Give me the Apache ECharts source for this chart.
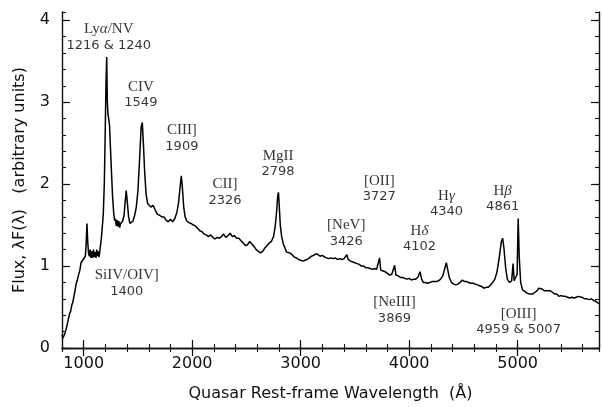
<!DOCTYPE html>
<html>
<head>
<meta charset="utf-8">
<script src="https://cdn.jsdelivr.net/npm/echarts@6/dist/echarts.min.js"></script>
<style>
html, body { margin: 0; padding: 0; background: #fff; }
#chart { width: 602px; height: 407px; }
</style>
</head>
<body>
<div id="chart"></div>
<script>
// Composite quasar spectrum: rest-frame wavelength (Å) and flux λF(λ)
const wavelength = [
  800, 808, 815, 822, 830, 840, 850, 860, 870, 880,
  890, 900, 910, 920, 930, 940, 950, 958, 965, 975,
  985, 995, 1005, 1015, 1022, 1030, 1037, 1045, 1052, 1060,
  1067, 1075, 1083, 1090, 1098, 1105, 1113, 1120, 1128, 1135,
  1142, 1150, 1160, 1170, 1180, 1190, 1198, 1205, 1212, 1218,
  1224, 1230, 1238, 1247, 1256, 1266, 1276, 1285, 1293, 1300,
  1308, 1316, 1324, 1332, 1340, 1350, 1360, 1372, 1382, 1392,
  1402, 1414, 1426, 1440, 1455, 1470, 1485, 1500, 1515, 1530,
  1540, 1550, 1562, 1575, 1590, 1605, 1620, 1640, 1660, 1680,
  1700, 1720, 1740, 1760, 1780, 1800, 1820, 1840, 1860, 1875,
  1890, 1900, 1910, 1922, 1935, 1950, 1970, 1990, 2010, 2030,
  2050, 2070, 2090, 2110, 2130, 2150, 2170, 2190, 2210, 2230,
  2250, 2270, 2290, 2310, 2330, 2350, 2370, 2390, 2410, 2430,
  2450, 2470, 2490, 2510, 2530, 2550, 2570, 2590, 2610, 2630,
  2650, 2670, 2690, 2710, 2730, 2750, 2765, 2778, 2788, 2795,
  2802, 2812, 2825, 2840, 2855, 2870, 2885, 2900, 2920, 2940,
  2960, 2980, 3000, 3020, 3040, 3060, 3080, 3100, 3120, 3140,
  3160, 3180, 3200, 3220, 3240, 3260, 3280, 3300, 3320, 3340,
  3360, 3380, 3400, 3415, 3426, 3438, 3460, 3480, 3500, 3520,
  3540, 3560, 3580, 3600, 3620, 3640, 3660, 3680, 3700, 3715,
  3727, 3738, 3760, 3780, 3800, 3820, 3840, 3855, 3866, 3878,
  3900, 3920, 3940, 3960, 3980, 4000, 4020, 4040, 4060, 4080,
  4100, 4115, 4130, 4150, 4170, 4190, 4210, 4230, 4250, 4270,
  4290, 4310, 4330, 4343, 4355, 4370, 4390, 4410, 4430, 4450,
  4470, 4490, 4510, 4530, 4550, 4570, 4590, 4610, 4630, 4650,
  4670, 4690, 4710, 4730, 4750, 4770, 4790, 4810, 4830, 4850,
  4862, 4875, 4890, 4905, 4925, 4945, 4958, 4968, 4985, 4995,
  5005, 5015, 5028, 5045, 5065, 5085, 5105, 5120, 5140, 5160,
  5180, 5195, 5210, 5225, 5245, 5260, 5280, 5300, 5320, 5340,
  5360, 5380, 5400, 5420, 5440, 5460, 5480, 5500, 5520, 5540,
  5560, 5575, 5590, 5605, 5620, 5640, 5660, 5680, 5700, 5720,
  5735, 5750
];
const flux = [
  0.16, 0.12, 0.14, 0.11, 0.19, 0.24, 0.30, 0.36, 0.42, 0.45,
  0.52, 0.56, 0.63, 0.70, 0.78, 0.82, 0.88, 0.86, 0.95, 1.04,
  1.06, 1.08, 1.07, 1.12, 1.25, 1.52, 1.30, 1.15, 1.12, 1.20,
  1.10, 1.18, 1.10, 1.20, 1.11, 1.17, 1.10, 1.20, 1.12, 1.18,
  1.11, 1.20, 1.30, 1.45, 1.62, 2.00, 2.60, 3.20, 3.55, 3.00,
  2.85, 2.80, 2.72, 2.43, 2.15, 1.85, 1.66, 1.55, 1.58, 1.49,
  1.56, 1.48, 1.55, 1.47, 1.52, 1.50, 1.55, 1.62, 1.78, 1.92,
  1.78, 1.60, 1.52, 1.52, 1.55, 1.62, 1.72, 1.92, 2.30, 2.70,
  2.75, 2.50, 2.15, 1.88, 1.76, 1.74, 1.72, 1.74, 1.68, 1.63,
  1.62, 1.60, 1.60, 1.56, 1.54, 1.57, 1.54, 1.58, 1.66, 1.78,
  1.98, 2.10, 1.95, 1.72, 1.60, 1.55, 1.53, 1.52, 1.50, 1.49,
  1.46, 1.43, 1.42, 1.39, 1.38, 1.36, 1.38, 1.35, 1.33, 1.35,
  1.34, 1.36, 1.39, 1.35, 1.37, 1.40, 1.36, 1.37, 1.34, 1.34,
  1.31, 1.28, 1.25, 1.26, 1.30, 1.27, 1.24, 1.20, 1.18, 1.16,
  1.18, 1.22, 1.25, 1.28, 1.30, 1.36, 1.48, 1.66, 1.85, 1.90,
  1.75, 1.50, 1.36, 1.27, 1.22, 1.17, 1.15, 1.16, 1.14, 1.11,
  1.10, 1.08, 1.07, 1.06, 1.07, 1.08, 1.10, 1.12, 1.13, 1.15,
  1.14, 1.12, 1.13, 1.11, 1.10, 1.09, 1.10, 1.09, 1.10, 1.08,
  1.09, 1.08, 1.09, 1.10, 1.14, 1.08, 1.06, 1.05, 1.04, 1.03,
  1.02, 1.00, 1.00, 0.98, 0.98, 0.97, 0.96, 0.97, 0.96, 0.95,
  1.10, 0.95, 0.94, 0.93, 0.91, 0.89, 0.90, 0.91, 1.01, 0.89,
  0.88, 0.86, 0.86, 0.85, 0.84, 0.85, 0.83, 0.84, 0.84, 0.86,
  0.93, 0.84, 0.80, 0.80, 0.79, 0.80, 0.81, 0.81, 0.81, 0.82,
  0.84, 0.88, 0.98, 1.04, 0.96, 0.86, 0.80, 0.78, 0.77, 0.78,
  0.80, 0.83, 0.81, 0.81, 0.80, 0.79, 0.79, 0.78, 0.77, 0.76,
  0.75, 0.73, 0.74, 0.74, 0.77, 0.80, 0.84, 0.93, 1.10, 1.30,
  1.34, 1.20, 0.97, 0.84, 0.80, 0.82, 1.03, 0.82, 0.80, 0.90,
  1.58, 1.10, 0.80, 0.71, 0.69, 0.67, 0.66, 0.65, 0.66, 0.68,
  0.70, 0.73, 0.71, 0.72, 0.70, 0.69, 0.70, 0.70, 0.68, 0.66,
  0.66, 0.63, 0.64, 0.63, 0.63, 0.62, 0.61, 0.62, 0.61, 0.62,
  0.63, 0.65, 0.62, 0.61, 0.60, 0.60, 0.59, 0.60, 0.58, 0.57,
  0.55, 0.54
];

// Emission-line annotations: ion name, rest wavelength text, label anchor (Å, flux)
const lineNames = ['Lyα/NV', 'CIV', 'CIII]', 'CII]', 'MgII', '[OII]', '[NeV]',
  'Hδ', 'Hγ', 'Hβ', 'SiIV/OIV]', '[NeIII]', '[OIII]'];
const lineWaves = ['1216 & 1240', '1549', '1909', '2326', '2798', '3727', '3426',
  '4102', '4340', '4861', '1400', '3869', '4959 & 5007'];
const labelX = [1231, 1527, 1905, 2303, 2792, 3725, 3420, 4095, 4344, 4862, 1397, 3864, 5009];
const labelY = [3.79, 3.09, 2.56, 1.90, 2.25, 1.94, 1.40, 1.33, 1.76, 1.82, 0.79, 0.46, 0.32];

const xMajorTicks = [1000, 2000, 3000, 4000, 5000];
const yMajorTicks = [0, 1, 2, 3, 4];

const X_MIN = 800, X_MAX = 5750, Y_MIN = 0, Y_MAX = 4.1;
const INK = '#111';
const sans = 'DejaVu Sans';

function minorXAxis(position, withName) {
  const ax = {
    type: 'value', position, min: X_MIN, max: X_MAX, interval: 200,
    axisLine: { show: true, lineStyle: { color: INK, width: 1.4 } },
    axisTick: { show: true, inside: true, length: 4, lineStyle: { color: INK, width: 1.1 } },
    axisLabel: { show: false },
    splitLine: { show: false }
  };
  if (withName) {
    ax.name = 'Quasar Rest-frame Wavelength  (Å)';
    ax.nameLocation = 'middle';
    ax.nameGap = 38;
    ax.nameTextStyle = { fontFamily: sans, fontSize: 16, color: INK };
  }
  return ax;
}
function majorXAxis(position, labels) {
  return {
    type: 'value', position, min: X_MIN, max: X_MAX,
    axisLine: { show: false },
    axisTick: { show: true, inside: true, length: 8, customValues: xMajorTicks,
      lineStyle: { color: INK, width: 1.2 } },
    axisLabel: { show: labels, customValues: xMajorTicks, margin: 8,
      formatter: v => String(v),
      fontFamily: sans, fontSize: 16, color: INK },
    splitLine: { show: false }
  };
}
function minorYAxis(position, withName) {
  const ax = {
    type: 'value', position, min: Y_MIN, max: Y_MAX, interval: 0.2,
    axisLine: { show: true, lineStyle: { color: INK, width: 1.4 } },
    axisTick: { show: true, inside: true, length: 4, lineStyle: { color: INK, width: 1.1 } },
    axisLabel: { show: false },
    splitLine: { show: false }
  };
  if (withName) {
    ax.name = 'Flux, λF(λ)   (arbitrary units)';
    ax.nameLocation = 'middle';
    ax.nameGap = 34;
    ax.nameTextStyle = { fontFamily: sans, fontSize: 16, color: INK };
  }
  return ax;
}
function majorYAxis(position, labels) {
  return {
    type: 'value', position, min: Y_MIN, max: Y_MAX,
    axisLine: { show: false },
    axisTick: { show: true, inside: true, length: 8, customValues: yMajorTicks,
      lineStyle: { color: INK, width: 1.2 } },
    axisLabel: { show: labels, customValues: yMajorTicks, margin: 12,
      formatter: v => String(v),
      fontFamily: sans, fontSize: 16, color: INK },
    splitLine: { show: false }
  };
}

// Rich-text label: ion name in serif (Greek letters italic), wavelength below in sans
function richName(name) {
  return '{n|' + name.replace(/([α-ω])/g, '}{g|$1}{n|') + '}';
}

const spectrum = wavelength.map((w, i) => [w, flux[i]]);
const annotations = labelX.map((x, i) => ({
  value: [x, labelY[i]],
  ion: lineNames[i],
  wave: lineWaves[i]
}));

const chart = echarts.init(document.getElementById('chart'), null, { renderer: 'canvas' });
chart.setOption({
  animation: false,
  backgroundColor: '#fff',
  grid: { left: 62, right: 3, top: 12, bottom: 57, containLabel: false },
  xAxis: [
    minorXAxis('bottom', true),
    majorXAxis('bottom', true),
    minorXAxis('top', false),
    majorXAxis('top', false)
  ],
  yAxis: [
    minorYAxis('left', true),
    majorYAxis('left', true),
    minorYAxis('right', false),
    majorYAxis('right', false)
  ],
  series: [
    {
      type: 'line',
      xAxisIndex: 0, yAxisIndex: 0,
      data: spectrum,
      showSymbol: false,
      smooth: false,
      lineStyle: { color: '#000', width: 1.5 },
      z: 3
    },
    {
      type: 'scatter',
      xAxisIndex: 0, yAxisIndex: 0,
      data: annotations,
      symbolSize: 0,
      silent: true,
      z: 4,
      label: {
        show: true,
        position: 'inside',
        align: 'center',
        verticalAlign: 'middle',
        formatter: p => richName(p.data.ion) + '\n{w|' + p.data.wave + '}',
        rich: {
          n: { fontFamily: 'Liberation Serif', fontSize: 15, color: '#000', lineHeight: 16 },
          g: { fontFamily: 'Liberation Serif', fontStyle: 'italic', fontSize: 15, color: '#000', lineHeight: 16 },
          w: { fontFamily: sans, fontSize: 13, color: '#000', lineHeight: 16 }
        }
      }
    }
  ]
});
</script>
</body>
</html>
